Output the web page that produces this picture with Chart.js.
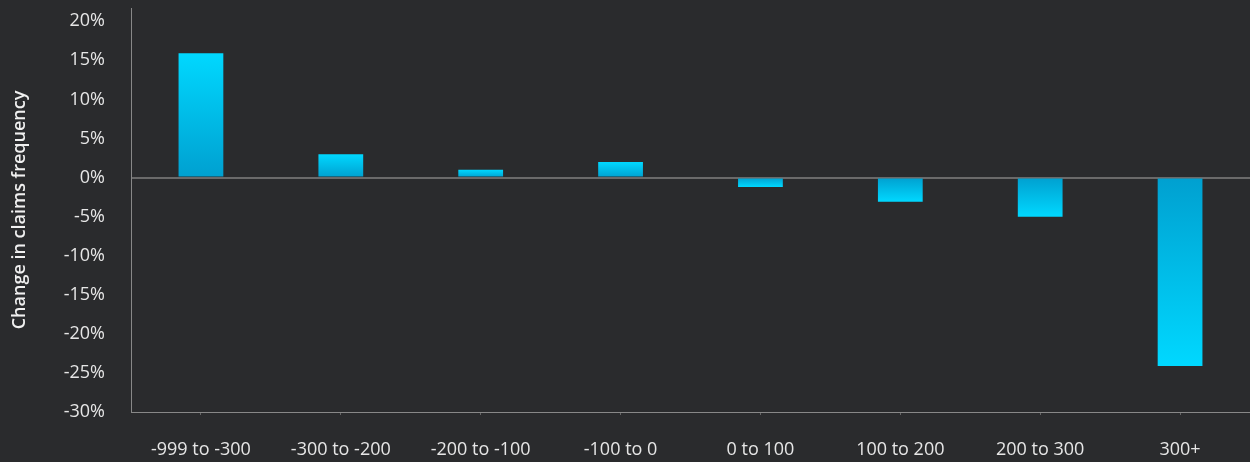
<!DOCTYPE html>
<html>
<head>
<meta charset="utf-8">
<script src="https://cdn.jsdelivr.net/npm/chart.js@4"></script>
<style>
html,body{margin:0;padding:0;background:#2a2b2d;}
canvas{display:block;}
</style>
</head>
<body>
<canvas id="c" width="1250" height="462"></canvas>
<script>
const categories = ["-999 to -300","-300 to -200","-200 to -100","-100 to 0","0 to 100","100 to 200","200 to 300","300+"];
const changeValues = [15.9, 3, 1, 2, -1.2, -3.1, -5, -24.1];
const yTickValues = [-30, -25, -20, -15, -10, -5, 0, 5, 10, 15, 20];
const yAxisTitle = "Change in claims frequency";

const FONT = "'Open Sans', sans-serif";

function barGradient(ctx) {
  const chart = ctx.chart;
  const y = chart.scales.y;
  if (!y || !chart.chartArea) return '#00c0ea';
  const v = ctx.raw;
  const y0 = y.getPixelForValue(0);
  const y1 = y.getPixelForValue(v);
  if (Math.abs(y1 - y0) < 0.5) return '#00c0ea';
  const g = chart.ctx.createLinearGradient(0, y0, 0, y1);
  g.addColorStop(0, '#00a0d0');
  g.addColorStop(1, '#00d8ff');
  return g;
}

const bgPlugin = {
  id: 'bg',
  beforeDraw(chart) {
    const c = chart.ctx;
    c.save();
    c.fillStyle = '#2a2b2d';
    c.fillRect(0, 0, chart.width, chart.height);
    c.restore();
  }
};

new Chart(document.getElementById('c'), {
  type: 'bar',
  data: {
    labels: categories,
    datasets: [{
      data: changeValues,
      backgroundColor: barGradient,
      borderWidth: 0,
      barPercentage: 0.32,
      categoryPercentage: 1
    }]
  },
  options: {
    responsive: false,
    animation: false,
    devicePixelRatio: 1,
    layout: { padding: { top: 8, right: 0, left: 0, bottom: 0 } },
    plugins: { legend: { display: false }, tooltip: { enabled: false } },
    scales: {
      x: {
        grid: { display: true, drawOnChartArea: false, offset: false, tickLength: 3, color: '#666' },
        border: { display: true, color: '#888', width: 1 },
        ticks: { color: '#e6e6e6', font: { family: FONT, size: 18 }, padding: 24, maxRotation: 0 },
        afterFit(s) { s.height = 50; s.paddingLeft = 0; s.paddingRight = 0; }
      },
      y: {
        min: -30,
        max: 21.7,
        afterBuildTicks(s) { s.ticks = yTickValues.map(v => ({ value: v })); },
        grid: {
          drawTicks: false,
          color: (c) => (c.tick && c.tick.value === 0) ? '#6a6a6a' : 'transparent',
          lineWidth: (c) => (c.tick && c.tick.value === 0) ? 2 : 0
        },
        border: { display: true, color: '#888', width: 1 },
        ticks: {
          color: '#e6e6e6',
          font: { family: FONT, size: 18 },
          padding: 26,
          callback: (v) => v + '%'
        },
        title: {
          display: true,
          text: yAxisTitle,
          color: '#f0f0f0',
          font: { family: FONT, size: 18, weight: '600' },
          padding: { top: 9, bottom: 0 }
        },
        afterFit(s) { s.width = 131; s.paddingTop = 0; s.paddingBottom = 0; }
      }
    }
  },
  plugins: [bgPlugin]
});
</script>
</body>
</html>
